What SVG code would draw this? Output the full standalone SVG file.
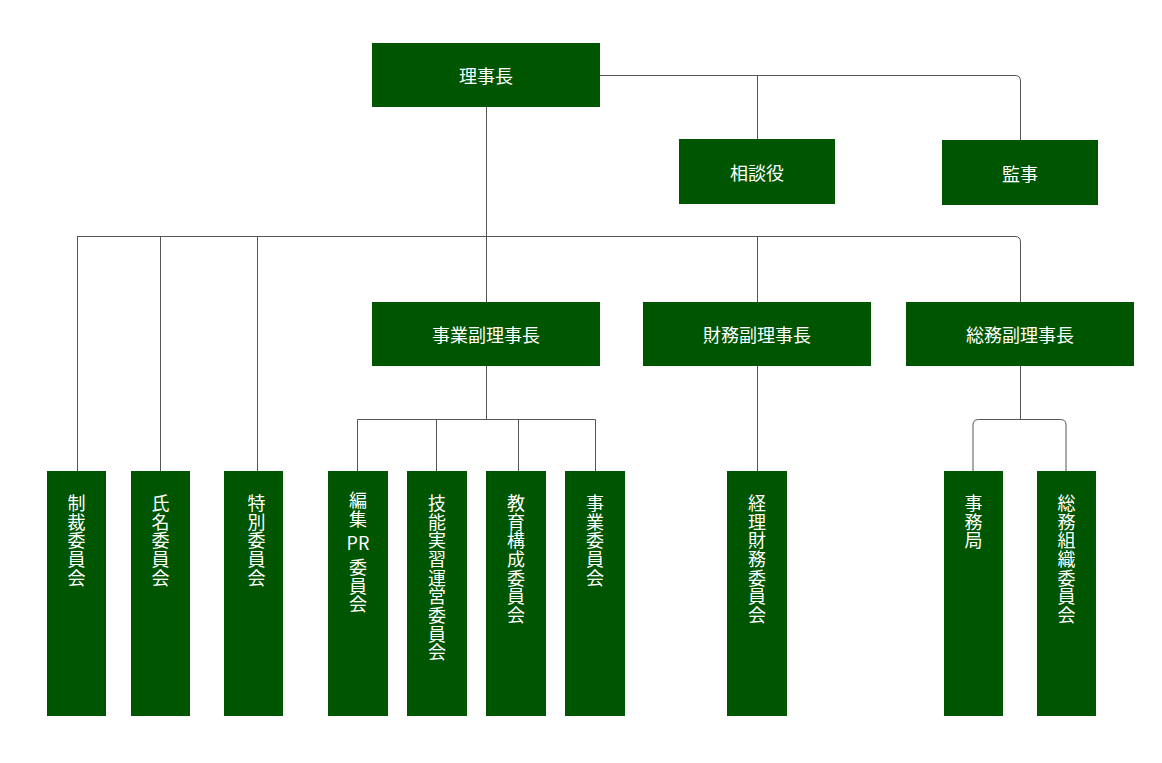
<svg xmlns="http://www.w3.org/2000/svg" width="1162" height="763" viewBox="0 0 1162 763">
<style>
.box{fill:#005500}
.t{fill:#ffffff;font-family:"Noto Sans CJK JP","Noto Sans",sans-serif;font-size:18px;text-anchor:middle;dominant-baseline:central}
.v{fill:#ffffff;font-family:"Noto Sans CJK JP","Noto Sans",sans-serif;font-size:18px;writing-mode:vertical-rl;text-orientation:upright;letter-spacing:0.7px;text-anchor:start}
.c{fill:none;stroke:#555555;stroke-width:1}
</style>
<rect width="1162" height="763" fill="#ffffff"/>
<g id="connectors">
<path class="c" d="M600 75.5 H1015 Q1020.5 75.5 1020.5 81 V140"/>
<path class="c" d="M757.5 75.5 V139"/>
<path class="c" d="M486.5 107 V302"/>
<path class="c" d="M77 236.5 H1015 Q1020.5 236.5 1020.5 242 V302"/>
<path class="c" d="M77.5 236.5 V471"/>
<path class="c" d="M160.5 236.5 V471"/>
<path class="c" d="M257.5 236.5 V471"/>
<path class="c" d="M757.5 236.5 V302"/>
<path class="c" d="M486.5 366 V419.5"/>
<path class="c" d="M357.5 471 V419.5 H595.5 V471"/>
<path class="c" d="M436.5 419.5 V471"/>
<path class="c" d="M518.5 419.5 V471"/>
<path class="c" d="M757.5 366 V471"/>
<path class="c" d="M1020.5 366 V419.5"/>
<path class="c" d="M973 471 V425 Q973 419.5 978.5 419.5 H1060.5 Q1066 419.5 1066 425 V471"/>
</g>
<g id="n-rijicho"><rect class="box" x="372" y="43" width="228" height="64"/><text class="t" x="486" y="75">理事長</text></g>
<g id="n-sodanyaku"><rect class="box" x="679" y="139" width="156" height="65"/><text class="t" x="757" y="171.5">相談役</text></g>
<g id="n-kanji"><rect class="box" x="942" y="140" width="156" height="65"/><text class="t" x="1020" y="172.5">監事</text></g>
<g id="n-jigyo-fuku"><rect class="box" x="372" y="302" width="228" height="64"/><text class="t" x="486" y="334">事業副理事長</text></g>
<g id="n-zaimu-fuku"><rect class="box" x="643" y="302" width="228" height="64"/><text class="t" x="757" y="334">財務副理事長</text></g>
<g id="n-somu-fuku"><rect class="box" x="906" y="302" width="228" height="64"/><text class="t" x="1020" y="334">総務副理事長</text></g>
<g id="n-seisai"><rect class="box" x="47" y="471" width="59" height="245"/><text class="v" x="76.5" y="494">制裁委員会</text></g>
<g id="n-shimei"><rect class="box" x="131" y="471" width="59" height="245"/><text class="v" x="160.5" y="494">氏名委員会</text></g>
<g id="n-tokubetsu"><rect class="box" x="224" y="471" width="59" height="245"/><text class="v" x="256.5" y="494">特別委員会</text></g>
<g id="n-henshu"><rect class="box" x="328" y="471" width="60" height="245"/><text class="v" x="358" y="491">編集</text><text class="t" x="358" y="542">PR</text><text class="v" x="358" y="558">委員会</text></g>
<g id="n-gino"><rect class="box" x="407" y="471" width="60" height="245"/><text class="v" x="437" y="494">技能実習運営委員会</text></g>
<g id="n-kyoiku"><rect class="box" x="486" y="471" width="60" height="245"/><text class="v" x="516" y="494">教育構成委員会</text></g>
<g id="n-jigyo"><rect class="box" x="565" y="471" width="60" height="245"/><text class="v" x="595" y="494">事業委員会</text></g>
<g id="n-keiri"><rect class="box" x="727" y="471" width="60" height="245"/><text class="v" x="757" y="494">経理財務委員会</text></g>
<g id="n-jimukyoku"><rect class="box" x="944" y="471" width="59" height="245"/><text class="v" x="973.5" y="494">事務局</text></g>
<g id="n-somusoshiki"><rect class="box" x="1037" y="471" width="59" height="245"/><text class="v" x="1066.5" y="494">総務組織委員会</text></g>
</svg>
